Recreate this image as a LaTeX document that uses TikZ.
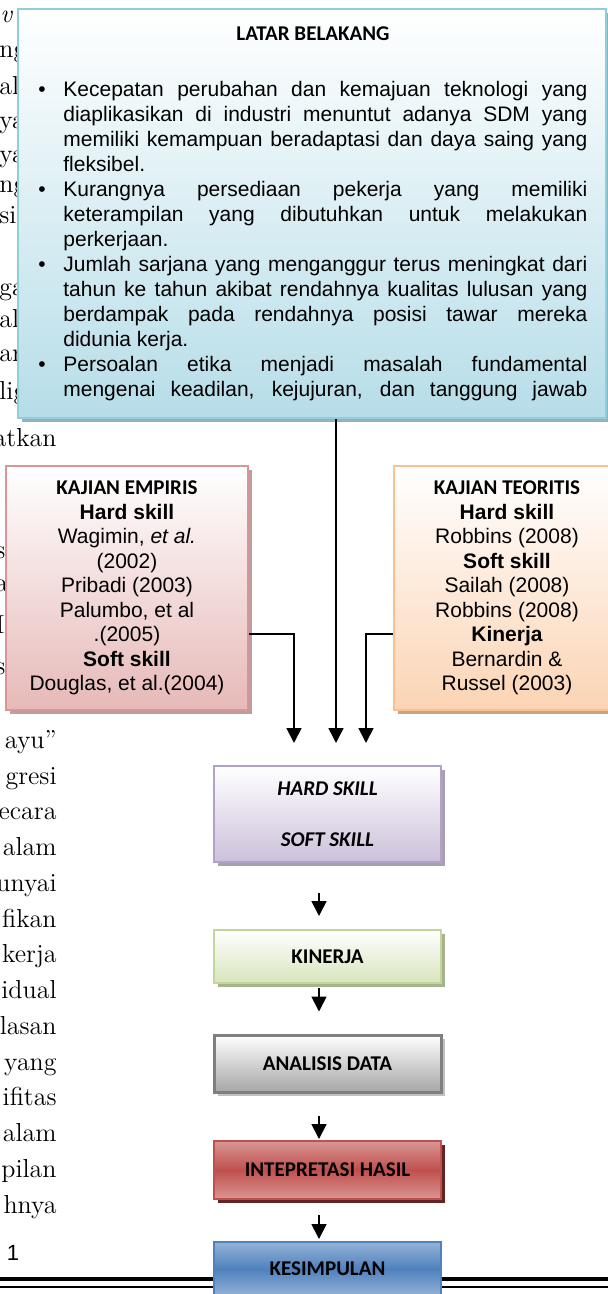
\documentclass[tikz,border=0pt]{standalone}
\usepackage{fontspec}
\newfontfamily\arialf{Liberation Sans}
\newfontfamily\calf{Carlito}
\usetikzlibrary{arrows.meta,shadows}

\definecolor{lbline}{HTML}{92CDDC}
\definecolor{lbfill}{HTML}{B6DDE8}
\definecolor{lbshad}{HTML}{94B1BC}
\definecolor{emline}{HTML}{D99694}
\definecolor{emfill}{HTML}{E6B9B8}
\definecolor{emshad}{HTML}{B9A0A0}
\definecolor{thline}{HTML}{FAC090}
\definecolor{thfill}{HTML}{FBD4B4}
\definecolor{thshad}{HTML}{C9A385}
\definecolor{hsline}{HTML}{B3A2C7}
\definecolor{hsfill}{HTML}{CCC0DA}
\definecolor{hsshad}{HTML}{A89FB3}
\definecolor{knline}{HTML}{C3D69B}
\definecolor{knfill}{HTML}{D7E4BD}
\definecolor{knshad}{HTML}{A7B38F}
\definecolor{adline}{HTML}{7F7F7F}
\definecolor{adfill}{HTML}{A6A6A6}
\definecolor{adshad}{HTML}{C0C0C0}
\definecolor{ipline}{HTML}{C0504D}
\definecolor{iptop}{HTML}{D99694}
\definecolor{ipshad}{HTML}{632523}
\definecolor{ksline}{HTML}{4F81BD}
\definecolor{kstop}{HTML}{95B3D7}

% one bullet of the background list
\newcommand{\lbitem}{\par\noindent\hangindent=12.5pt\hangafter=1\makebox[12.5pt][l]{\textbullet}}

\begin{document}
\begin{tikzpicture}[x=0.5pt,y=-0.5pt,
  every node/.style={inner sep=0pt},
  fragtext/.style={font=\fontsize{13}{15}\selectfont},
  boxtext/.style={font=\arialf\fontsize{10.5}{12.25}\selectfont,align=center},
  boxhead/.style={font=\calf\bfseries\fontsize{10.5}{12.6}\selectfont},
  flowbox/.style={draw,line width=1pt},
  dshadow/.style={drop shadow={shadow xshift=2pt,shadow yshift=-2pt,fill=#1,opacity=1}},
  arr/.style={line width=0.85pt,-{Triangle[width=7.5pt,length=7.5pt]}}]
  \useasboundingbox (0,0) rectangle (608,1294);
  \clip (0,0) rectangle (608,1294);

  % page text behind the chart
  \node[fragtext,anchor=base west] (pv) at (0,23) {\textit{v}};
  \foreach \w/\y in {ng/58,al/95,ya/129,ya/163,ng/193,si/224,ga/296,al/328,an/361,lig/399}
    \node[fragtext,anchor=base west] (pa\y) at (-1,\y) {\w};
  \foreach \w/\y in {s/558,a/591,I/633,s/674}
    \node[fragtext,anchor=base west] (ps\y) at (-5,\y) {\w};
  \node[fragtext,anchor=base east] (pat) at (57,446) {atkan};
  \foreach \w/\y in {ayu”/748,gresi/784,ecara/819,alam/855,unyai/891,fikan/927,kerja/962,
                     idual/998,lasan/1034,yang/1070,ifitas/1105,alam/1141,pilan/1177,hnya/1213}
    \node[fragtext,anchor=base east] (pb\y) at (57,\y) {\w};
  \node[font=\arialf\fontsize{11}{13}\selectfont] (pgnum) at (13,1253) {1};
  \draw[line width=1.6pt] (0,1279) -- (608,1279);
  \draw[line width=1.1pt] (0,1287) -- (608,1287);

  % latar belakang
  \node[flowbox,draw=lbline,top color=white,bottom color=lbfill,dshadow=lbshad,
        minimum width=294pt,minimum height=204.5pt] (latar) at (312,213.5) {};
  \node[boxhead] (lbtitle) at (313,34) {LATAR BELAKANG};
  \node[anchor=north west,text width=274.5pt,align=justify,
        font=\arialf\fontsize{10.5}{12.5}\selectfont] (lbitems) at (38,71) {%
    \lbitem Kecepatan perubahan dan kemajuan teknologi yang\linebreak
    diaplikasikan di industri menuntut adanya SDM yang\linebreak
    memiliki kemampuan beradaptasi dan daya saing yang\linebreak
    fleksibel.
    \lbitem Kurangnya persediaan pekerja yang memiliki\linebreak
    keterampilan yang dibutuhkan untuk melakukan\linebreak
    perkerjaan.
    \lbitem Jumlah sarjana yang menganggur terus meningkat dari\linebreak
    tahun ke tahun akibat rendahnya kualitas lulusan yang\linebreak
    berdampak pada rendahnya posisi tawar mereka\linebreak
    didunia kerja.
    \lbitem Persoalan etika menjadi masalah fundamental\linebreak
    mengenai keadilan, kejujuran, dan tanggung jawab\parfillskip=0pt\par};

  % kajian
  \node[flowbox,draw=emline,top color=white,bottom color=emfill,dshadow=emshad,
        minimum width=121pt,minimum height=122pt,boxtext] (empiris) at (127,588)
    {{\calf\bfseries KAJIAN EMPIRIS}\\\textbf{Hard skill}\\Wagimin, \textit{et al.}\\(2002)\\
     Pribadi (2003)\\Palumbo, et al\\.(2005)\\\textbf{Soft skill}\\Douglas, et al.(2004)};
  \node[flowbox,draw=thline,top color=white,bottom color=thfill,dshadow=thshad,
        minimum width=113pt,minimum height=122pt,boxtext] (teoritis) at (507,588)
    {{\calf\bfseries KAJIAN TEORITIS}\\\textbf{Hard skill}\\Robbins (2008)\\\textbf{Soft skill}\\
     Sailah (2008)\\Robbins (2008)\\\textbf{Kinerja}\\Bernardin \&\\Russel (2003)};

  % alur
  \node[flowbox,draw=hsline,top color=white,bottom color=hsfill,dshadow=hsshad,
        minimum width=113.5pt,minimum height=48pt,align=center,
        font=\calf\bfseries\itshape\fontsize{10.5}{25.5}\selectfont] (hard) at (327.5,814)
    {HARD SKILL\\SOFT SKILL};
  \node[flowbox,draw=knline,top color=white,bottom color=knfill,dshadow=knshad,
        minimum width=113.5pt,minimum height=26.5pt,boxhead] (kinerja) at (327.5,956.5) {KINERJA};
  \node[flowbox,line width=1.5pt,draw=adline,top color=white,bottom color=adfill,dshadow=adshad,
        minimum width=113.5pt,minimum height=28.5pt,boxhead] (analisis) at (327.5,1063.5) {ANALISIS DATA};
  \node[flowbox,draw=ipline,top color=iptop,bottom color=iptop,middle color=ipline,dshadow=ipshad,
        minimum width=113.5pt,minimum height=29pt,boxhead] (interp) at (327.5,1170) {INTEPRETASI HASIL};
  \node[flowbox,draw=ksline,top color=kstop,bottom color=kstop,middle color=ksline,
        minimum width=113.5pt,minimum height=27pt,boxhead] (simpul) at (327.5,1269) {KESIMPULAN};

  % panah
  \coordinate (cx) at (336,0);
  \coordinate (lx) at (294,0);
  \coordinate (rx) at (366,0);
  \coordinate (ax) at (319,0);
  \coordinate (hy) at (0,634);
  \draw[arr,shorten >=11pt] (latar.south -| cx) -- (hard.north -| cx);
  \draw[arr,shorten >=11pt] (empiris.east |- hy) -| (hard.north -| lx);
  \draw[arr,shorten >=11pt] (teoritis.west |- hy) -| (hard.north -| rx);
  \draw[arr,shorten <=15pt,shorten >=6.5pt] (hard.south -| ax) -- (kinerja.north -| ax);
  \draw[arr,shorten <=2pt,shorten >=11pt] (kinerja.south -| ax) -- (analisis.north -| ax);
  \draw[arr,shorten <=11pt,shorten >=0.5pt] (analisis.south -| ax) -- (interp.north -| ax);
  \draw[arr,shorten <=7.5pt,shorten >=1pt] (interp.south -| ax) -- (simpul.north -| ax);
\end{tikzpicture}
\end{document}
